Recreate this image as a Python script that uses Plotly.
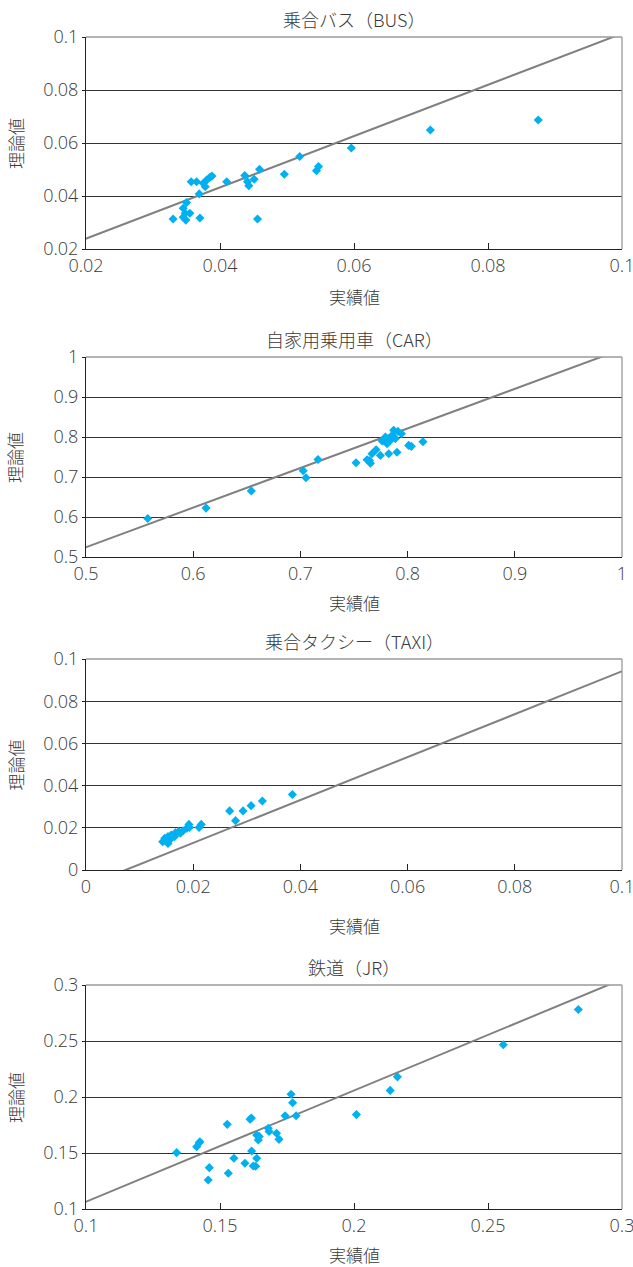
import plotly.graph_objects as go

# ---------------- data ----------------
titles = ["乗合バス（BUS）", "自家用乗用車（CAR）", "乗合タクシー（TAXI）", "鉄道（JR）"]
x_title = "実績値"
y_title = "理論値"

bus_x = [0.0357, 0.0365, 0.0375, 0.0380, 0.0385, 0.0388, 0.0378, 0.0369, 0.0410, 0.0437,
         0.0441, 0.0443, 0.0451, 0.0459, 0.0496, 0.0519, 0.0544, 0.0547, 0.0596, 0.0714,
         0.0875, 0.0350, 0.0345, 0.0348, 0.0355, 0.0345, 0.0349, 0.0330, 0.0370, 0.0456]
bus_y = [0.0454, 0.0454, 0.0448, 0.0460, 0.0471, 0.0475, 0.0435, 0.0408, 0.0454, 0.0477,
         0.0454, 0.0439, 0.0463, 0.0501, 0.0482, 0.0549, 0.0495, 0.0511, 0.0581, 0.0649,
         0.0687, 0.0375, 0.0354, 0.0335, 0.0335, 0.0320, 0.0309, 0.0313, 0.0317, 0.0313]

car_x = [0.5576, 0.6120, 0.6542, 0.7026, 0.7052, 0.7164, 0.7519, 0.7622, 0.7653, 0.7645,
         0.7668, 0.7706, 0.7746, 0.7824, 0.7901, 0.8010, 0.8035, 0.8143, 0.7762, 0.7808,
         0.7793, 0.7855, 0.7870, 0.7910, 0.7942, 0.7840, 0.7886]
car_y = [0.5961, 0.6223, 0.6653, 0.7159, 0.6981, 0.7437, 0.7355, 0.7430, 0.7345, 0.7410,
         0.7580, 0.7680, 0.7540, 0.7580, 0.7620, 0.7790, 0.7766, 0.7880, 0.7900, 0.7830,
         0.8000, 0.8040, 0.8170, 0.8140, 0.8080, 0.7920, 0.7960]

taxi_x = [0.0385, 0.0329, 0.0308, 0.0293, 0.0268, 0.0279, 0.0215, 0.0211, 0.0192, 0.0188,
          0.0181, 0.0173, 0.0167, 0.0159, 0.0153, 0.0147, 0.0143, 0.0153, 0.0156, 0.0165,
          0.0176, 0.0193, 0.0149]
taxi_y = [0.0358, 0.0327, 0.0305, 0.0280, 0.0280, 0.0234, 0.0216, 0.0202, 0.0216, 0.0198,
          0.0186, 0.0182, 0.0177, 0.0166, 0.0158, 0.0150, 0.0134, 0.0126, 0.0142, 0.0158,
          0.0174, 0.0202, 0.0139]

jr_x = [0.2837, 0.2557, 0.2162, 0.2135, 0.2009, 0.1765, 0.1771, 0.1743, 0.1784, 0.1612,
        0.1617, 0.1527, 0.1680, 0.1683, 0.1711, 0.1720, 0.1637, 0.1643, 0.1646, 0.1425,
        0.1413, 0.1422, 0.1338, 0.1618, 0.1552, 0.1637, 0.1593, 0.1624, 0.1633, 0.1460,
        0.1531, 0.1456]
jr_y = [0.2781, 0.2467, 0.2180, 0.2059, 0.1843, 0.2024, 0.1949, 0.1833, 0.1833, 0.1801,
        0.1812, 0.1756, 0.1720, 0.1692, 0.1676, 0.1622, 0.1660, 0.1616, 0.1648, 0.1601,
        0.1556, 0.1589, 0.1503, 0.1518, 0.1453, 0.1453, 0.1408, 0.1384, 0.1382, 0.1369,
        0.1319, 0.1259]

# trend lines: (slope, intercept)
trend_slope = [0.9675, 0.990, 1.017, 0.993]
trend_intercept = [0.00455, 0.0295, -0.0075, 0.0072]

# axis ticks
bus_ticks = [0.02, 0.04, 0.06, 0.08, 0.1]
car_ticks = [0.5, 0.6, 0.7, 0.8, 0.9, 1.0]
taxi_ticks = [0, 0.02, 0.04, 0.06, 0.08, 0.1]
jr_ticks = [0.1, 0.15, 0.2, 0.25, 0.3]
bus_ticktext = ["0.02", "0.04", "0.06", "0.08", "0.1"]
car_ticktext = ["0.5", "0.6", "0.7", "0.8", "0.9", "1"]
taxi_ticktext = ["0", "0.02", "0.04", "0.06", "0.08", "0.1"]
jr_ticktext = ["0.1", "0.15", "0.2", "0.25", "0.3"]

# ---------------- layout ----------------
W, H = 633, 1267
xdom = [86 / W, 622 / W]
panels_px = [(37, 249), (357, 557), (659, 870), (985, 1209)]  # top, bottom in px
ydoms = [[1 - b / H, 1 - t / H] for t, b in panels_px]
xtitle_px = [296, 602, 925, 1254]

series = [(bus_x, bus_y, bus_ticks, bus_ticktext),
          (car_x, car_y, car_ticks, car_ticktext),
          (taxi_x, taxi_y, taxi_ticks, taxi_ticktext),
          (jr_x, jr_y, jr_ticks, jr_ticktext)]

TXT = "#3a3a3a"
FONT = "Noto Sans CJK JP, Noto Sans, sans-serif"
NUMFONT = "Open Sans, Noto Sans, sans-serif"
MARK = "#00B0F0"

fig = go.Figure()
annotations = []
shapes = []
for i, (xs, ys, ticks, ticktext) in enumerate(series):
    n = "" if i == 0 else str(i + 1)
    xa, ya = "x" + n, "y" + n
    rng = [ticks[0], ticks[-1]]
    # trend line
    lx = [rng[0] - 0.05 * (rng[1] - rng[0]), rng[1] + 0.05 * (rng[1] - rng[0])]
    ly = [trend_slope[i] * v + trend_intercept[i] for v in lx]
    fig.add_trace(go.Scatter(x=lx, y=ly, mode="lines", xaxis=xa, yaxis=ya,
                             line=dict(color="#808080", width=2), hoverinfo="skip",
                             showlegend=False))
    fig.add_trace(go.Scatter(x=xs, y=ys, mode="markers", xaxis=xa, yaxis=ya,
                             marker=dict(symbol="diamond", size=7, color=MARK,
                                         line=dict(width=0)),
                             showlegend=False))
    common = dict(range=rng, tickvals=ticks, ticktext=ticktext, showline=True,
                  linecolor="#222222", linewidth=1.3, automargin=False,
                  ticklabeloverflow="allow",
                  tickfont=dict(family=NUMFONT, size=18, color=TXT, weight=300),
                  tickcolor="#222222", zeroline=False, fixedrange=True)
    fig.layout["xaxis" + n] = dict(domain=xdom, anchor=ya, showgrid=False,
                                   ticks="inside", ticklen=6, **common)
    fig.layout["yaxis" + n] = dict(domain=ydoms[i], anchor=xa, showgrid=True,
                                   gridcolor="#333333", gridwidth=1, ticks="outside",
                                   ticklen=3, **common)
    # plot area border (top / right) in gray
    shapes.append(dict(type="line", xref=xa + " domain", yref=ya + " domain",
                       x0=0, x1=1, y0=1, y1=1, line=dict(color="#9a9a9a", width=1.3)))
    shapes.append(dict(type="line", xref=xa + " domain", yref=ya + " domain",
                       x0=1, x1=1, y0=0, y1=1, line=dict(color="#9a9a9a", width=1.3)))
    top, bot = panels_px[i]
    cx = (xdom[0] + xdom[1]) / 2
    annotations.append(dict(text=titles[i], x=cx, y=1 - (top - 18) / H, xref="paper",
                            yref="paper", showarrow=False, xanchor="center",
                            yanchor="middle",
                            font=dict(family=FONT, size=18, color=TXT, weight=300)))
    annotations.append(dict(text=x_title, x=cx, y=1 - xtitle_px[i] / H, xref="paper",
                            yref="paper", showarrow=False, xanchor="center",
                            yanchor="middle",
                            font=dict(family=FONT, size=17, color=TXT, weight=300)))
    annotations.append(dict(text=y_title, x=15 / W, y=1 - (top + bot) / 2 / H,
                            xref="paper", yref="paper", showarrow=False, textangle=-90,
                            xanchor="center", yanchor="middle",
                            font=dict(family=FONT, size=17, color=TXT, weight=300)))

fig.update_layout(width=W, height=H, margin=dict(l=0, r=0, t=0, b=0),
                  paper_bgcolor="white", plot_bgcolor="white",
                  annotations=annotations, shapes=shapes,
                  font=dict(family=FONT, color=TXT))

fig.write_html("out.html", config={"displayModeBar": False},
               post_script="document.body.style.margin='0';")
